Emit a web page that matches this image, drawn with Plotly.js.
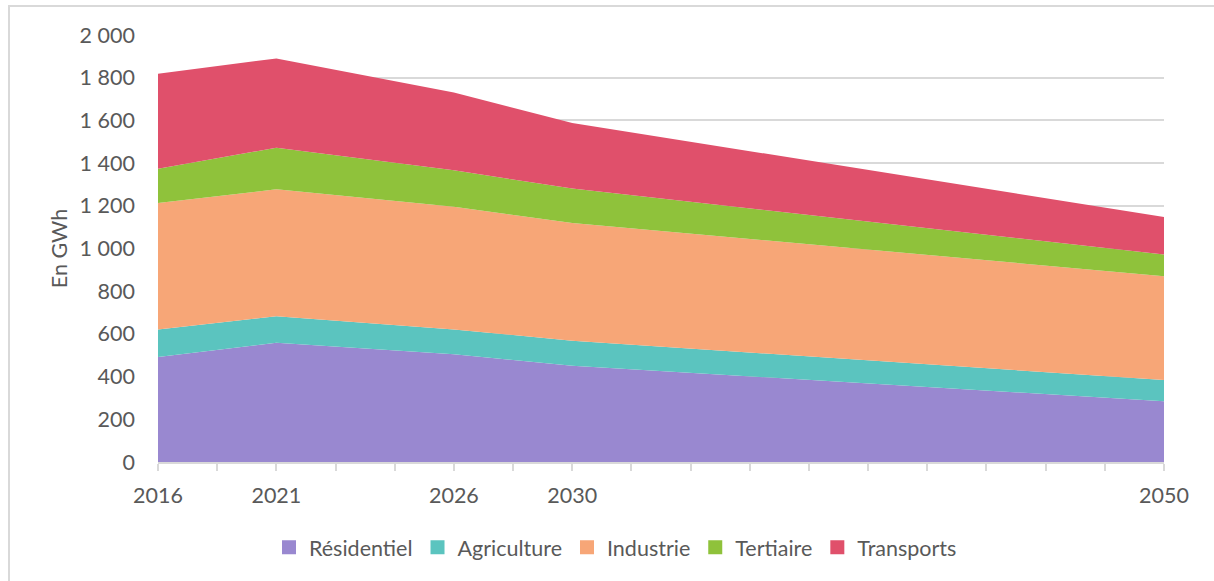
<!DOCTYPE html>
<html>
<head>
<meta charset="utf-8">
<script src="https://cdn.plot.ly/plotly-3.0.1.min.js"></script>
<style>
  html, body { margin: 0; padding: 0; background: #ffffff; overflow: hidden; }
  #frame { position: absolute; left: 8px; top: 5px; width: 1300px; height: 700px;
           border-left: 2px solid #d9d9d9; border-top: 2px solid #d9d9d9; pointer-events: none; }
  #chart { position: absolute; left: 0; top: 0; width: 1214px; height: 581px; }
</style>
</head>
<body>
<div id="chart"></div>
<div id="frame"></div>
<script>
// Category slots on the x axis (Excel-style category axis, 18 slots)
const slotLabels = ["2016", "", "2021", "", "", "2026", "", "2030", "", "", "", "", "", "", "", "", "", "2050"];
// Slot index of each data year
const years = ["2016", "2021", "2026", "2030", "2050"];
const yearSlots = [0, 2, 5, 7, 17];

// Consumption in GWh
const residentiel = [492, 558, 505, 451, 285];
const agriculture = [129, 125, 116, 117, 99];
const industrie   = [592, 594, 574, 552, 486];
const tertiaire   = [161, 195, 171, 161, 102];
const transports  = [445, 418, 365, 307, 176];

const seriesNames = ["Résidentiel", "Agriculture", "Industrie", "Tertiaire", "Transports"];
const seriesData = [residentiel, agriculture, industrie, tertiaire, transports];
const seriesColors = ["#9988d0", "#5bc4bf", "#f7a677", "#8fc23b", "#e0506b"];

const traces = [];
seriesNames.forEach((name, i) => {
  traces.push({
    type: "scatter",
    mode: "none",
    name: name,
    x: yearSlots,
    y: seriesData[i],
    text: years,
    stackgroup: "one",
    fillcolor: seriesColors[i],
    line: { width: 0 },
    showlegend: false,
    hovertemplate: "%{text}: %{y} GWh<extra>" + name + "</extra>"
  });
});
// Legend entries with square swatches
seriesNames.forEach((name, i) => {
  traces.push({
    type: "scatter",
    mode: "markers",
    name: name,
    x: [null],
    y: [null],
    marker: { symbol: "square", size: 14, color: seriesColors[i] },
    showlegend: true,
    hoverinfo: "skip"
  });
});

const tickVals = slotLabels.map((_, i) => i);
const FS = 21.5;

const layout = {
  width: 1214,
  height: 581,
  margin: { l: 158, r: 50, t: 35, b: 119 },
  paper_bgcolor: "#ffffff",
  plot_bgcolor: "#ffffff",
  separators: ", ",
  font: { family: "Lato, 'Open Sans', sans-serif", size: FS, color: "#595959" },
  showlegend: true,
  xaxis: {
    type: "linear",
    range: [0, 17],
    tickmode: "array",
    tickvals: tickVals,
    ticktext: slotLabels,
    ticks: "outside",
    ticklen: 7,
    tickwidth: 1.5,
    tickcolor: "#d9d9d9",
    showgrid: false,
    zeroline: false,
    showline: true,
    linecolor: "#d9d9d9",
    linewidth: 1.5,
    ticklabelstandoff: 6,
    tickfont: { size: FS, color: "#595959" },
    fixedrange: true
  },
  yaxis: {
    range: [0, 2000],
    dtick: 200,
    tick0: 0,
    tickformat: ",d",
    showgrid: true,
    gridcolor: "#d9d9d9",
    gridwidth: 1.5,
    zeroline: false,
    showline: false,
    ticks: "",
    ticklabelstandoff: 22,
    tickfont: { size: FS, color: "#595959" },
    title: { text: "En GWh", font: { size: FS, color: "#595959" }, standoff: 6 },
    fixedrange: true
  },
  legend: {
    orientation: "h",
    xref: "container",
    yref: "container",
    x: 0.507,
    xanchor: "center",
    y: 0.058,
    yanchor: "middle",
    traceorder: "normal",
    itemgap: 14,
    font: { size: FS, color: "#595959" },
    bgcolor: "rgba(0,0,0,0)"
  }
};

Plotly.newPlot("chart", traces, layout, { displayModeBar: false, staticPlot: false });
</script>
</body>
</html>
